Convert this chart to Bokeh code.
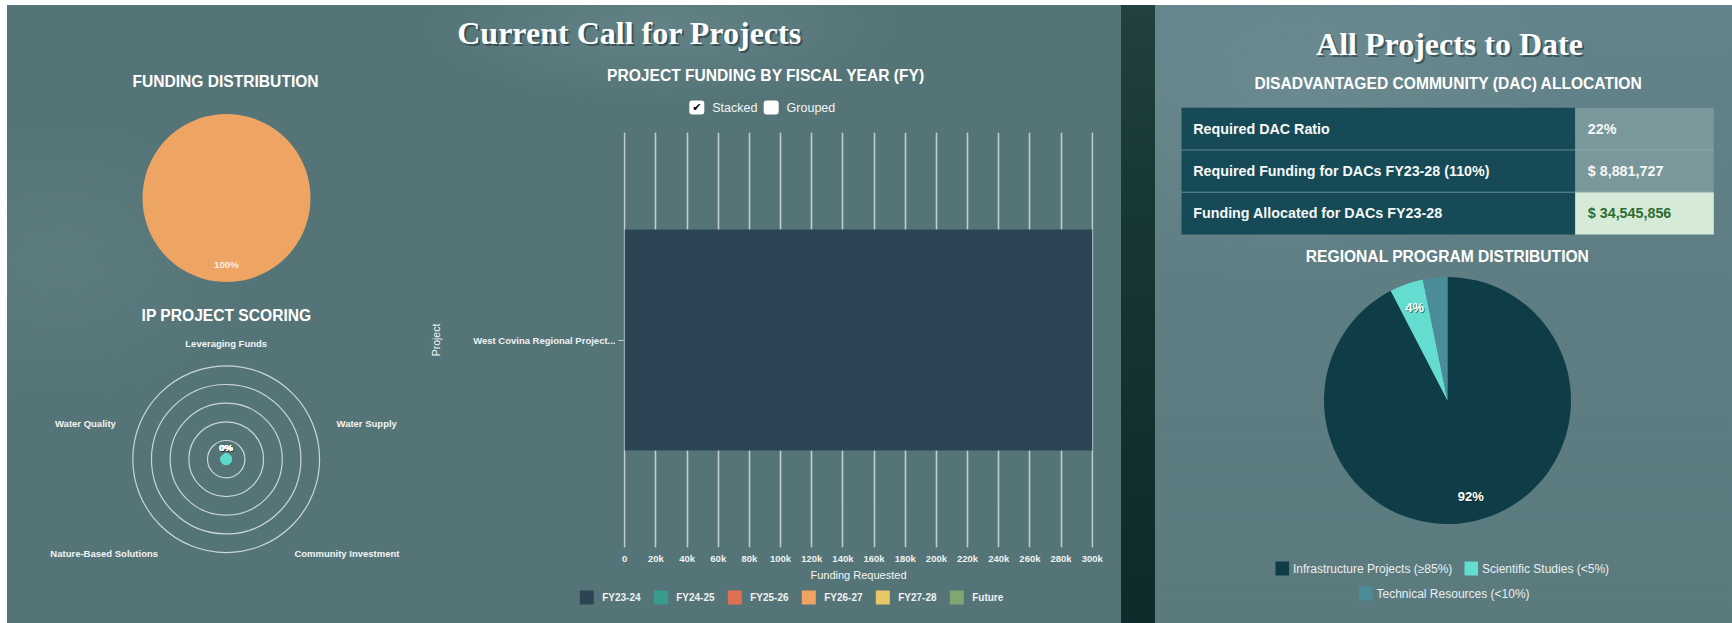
import math
import numpy as np
from bokeh.plotting import figure
from bokeh.layouts import row, column
from bokeh.models import Range1d, FactorRange, FixedTicker, NumeralTickFormatter, ColumnDataSource
from bokeh.core.properties import value
from bokeh.embed import file_html
from bokeh.resources import INLINE

# ---------------- data ----------------
left_title = "Current Call for Projects"
right_title = "All Projects to Date"

funding_dist_title = "FUNDING DISTRIBUTION"
funding_dist_labels = ["West Covina Regional Project..."]
funding_dist_values = [300000]
funding_dist_colors = ["#eea463"]

scoring_title = "IP PROJECT SCORING"
scoring_axes = ["Leveraging Funds", "Water Supply", "Community Investment",
                "Nature-Based Solutions", "Water Quality"]
scoring_values = [0, 0, 0, 0, 0]
scoring_rings = [20, 40, 60, 80, 100]

bar_title = "PROJECT FUNDING BY FISCAL YEAR (FY)"
bar_modes = ["Stacked", "Grouped"]
bar_mode_checked = [True, False]
projects = ["West Covina Regional Project..."]
fiscal_years = ["FY23-24", "FY24-25", "FY25-26", "FY26-27", "FY27-28", "Future"]
fy_funding = [300000, 0, 0, 0, 0, 0]
fy_colors = ["#2c4454", "#3a9b8e", "#e07052", "#f0a363", "#e8c767", "#80a672"]
funding_ticks = [0, 20000, 40000, 60000, 80000, 100000, 120000, 140000, 160000,
                 180000, 200000, 220000, 240000, 260000, 280000, 300000]
x_axis_label = "Funding Requested"
y_axis_label = "Project"

dac_title = "DISADVANTAGED COMMUNITY (DAC) ALLOCATION"
dac_labels = ["Required DAC Ratio", "Required Funding for DACs FY23-28 (110%)",
              "Funding Allocated for DACs FY23-28"]
dac_values = ["22%", "$ 8,881,727", "$ 34,545,856"]

regional_title = "REGIONAL PROGRAM DISTRIBUTION"
regional_labels = ["Infrastructure Projects (\u226585%)", "Scientific Studies (<5%)",
                   "Technical Resources (<10%)"]
regional_shares = [92.4, 4.4, 3.2]
regional_colors = ["#0f3d47", "#64dcd0", "#4a8c98"]

# ---------------- style ----------------
BG_LEFT = "#557478"
SANS = "'Liberation Sans', Arial, sans-serif"
SERIF = "'Liberation Serif', 'Times New Roman', serif"
TOP_WHITE = "linear-gradient(to bottom, #ffffff 5px, rgba(255,255,255,0) 5px)"


def panel(x0, y0, w, h, background, frame=None):
    # data units are screen pixels; y is the negated screen y
    fx0, fx1 = frame if frame else (x0, x0 + w)
    p = figure(width=w, height=h, x_range=Range1d(fx0, fx1), y_range=Range1d(-(y0 + h), -y0),
               x_axis_type=None, y_axis_type=None, output_backend="svg", toolbar_location=None,
               min_border_left=fx0 - x0, min_border_right=x0 + w - fx1,
               min_border_top=0, min_border_bottom=0, outline_line_color=None,
               background_fill_color=None, border_fill_color=None)
    p.styles = {"background": background}
    return p


def label(p, xs, ys, texts, size, font=SANS, style="bold", color="white",
          align="center", baseline="middle", alpha=1.0):
    p.text(x=list(xs), y=list(ys), text=list(texts), text_font=value(font),
           text_font_size=value(size), text_font_style=style, text_color=color,
           text_alpha=alpha, text_align=align, text_baseline=baseline, level="overlay")


def pie_angles(vals, eps=1e-6):
    fr = np.asarray(vals, dtype=float) / float(np.sum(vals))
    cum = np.concatenate([[0.0], np.cumsum(fr)])
    starts = math.pi / 2 - 2 * math.pi * cum[:-1]
    ends = math.pi / 2 - 2 * math.pi * cum[1:] + eps
    mids = (starts + ends) / 2
    return fr, starts, ends, mids


# ================= left column (pie + radar) =================
left = panel(0, 0, 420, 623, ", ".join([
    "linear-gradient(to right, #ffffff 7px, rgba(255,255,255,0) 7px)", TOP_WHITE,
    "radial-gradient(ellipse 200px 140px at 60px 260px, rgba(118,148,150,0.25), rgba(118,148,150,0) 100%)",
    BG_LEFT]))
label(left, [225], [-81], [funding_dist_title], "15.6px")

fcx, fcy, fR = 226, -197.5, 84
fr, st, en, md = pie_angles(funding_dist_values)
left.wedge(x=[fcx] * len(fr), y=[fcy] * len(fr), radius=fR, radius_units="screen",
           start_angle=list(st), end_angle=list(en), direction="clock",
           fill_color=funding_dist_colors, line_color=None)
label(left, [fcx + 0.79 * fR * math.cos(m) for m in md], [fcy + 0.79 * fR * math.sin(m) for m in md],
      [f"{round(f * 100)}%" for f in fr], "9.8px", color="#fbeee2")

label(left, [226], [-315], [scoring_title], "15.6px")

rcx, rcy, RR = 225.7, -458.7, 93.4
left.circle(x=[rcx] * len(scoring_rings), y=[rcy] * len(scoring_rings),
            radius=[RR * r / 100 for r in scoring_rings], radius_units="screen",
            fill_color=None, line_color="#dfe6e6", line_width=1.2, line_alpha=0.85)
n = len(scoring_axes)
theta = [math.pi / 2 - i * 2 * math.pi / n for i in range(n)]
px = [rcx + RR * v / 100 * math.cos(t) for v, t in zip(scoring_values, theta)]
py = [rcy + RR * v / 100 * math.sin(t) for v, t in zip(scoring_values, theta)]
left.patch(px, py, fill_color="#5fd9cc", fill_alpha=0.25, line_color="#5fd9cc", line_width=1)
left.scatter(px, py, size=10.6, color="#5fd9cc")
label(left, [x + 1 for x in px], [y + 10.7 for y in py], [f"{v}%" for v in scoring_values],
      "9.5px", color="#1d3034", alpha=0.45)
label(left, px, [y + 11.7 for y in py], [f"{v}%" for v in scoring_values], "9.5px")
RL = 116
for name, t in zip(scoring_axes, theta):
    c = math.cos(t)
    al = "center" if abs(c) < 0.1 else ("left" if c > 0 else "right")
    label(left, [rcx + RL * c], [rcy + RL * math.sin(t)], [name], "9.5px", align=al,
          color="#f2f5f5")

# ================= middle column =================
FRAME = (623, 1093)
MID_BG = ", ".join([
    TOP_WHITE,
    "radial-gradient(ellipse 240px 75px at 240px 28px, rgba(125,155,158,0.35), rgba(125,155,158,0) 100%)",
    BG_LEFT])
header = panel(420, 0, 701, 122, MID_BG, frame=FRAME)
label(header, [631], [-34], [left_title], "32px", font=SERIF, color="#1b2e31", alpha=0.55)
label(header, [629], [-32], [left_title], "32px", font=SERIF)
label(header, [765.5], [-75], [bar_title], "15.6px")
box_x = [696.3, 770.7]
header.quad(left=[x - 7.5 for x in box_x], right=[x + 7.5 for x in box_x],
            top=[-100] * len(box_x), bottom=[-114] * len(box_x),
            fill_color="white", line_color=None, border_radius=3, level="overlay")
label(header, [x for x, c in zip(box_x, bar_mode_checked) if c],
      [-107.3 for c in bar_mode_checked if c], ["\u2714" for c in bar_mode_checked if c],
      "11px", font="DejaVu Sans", style="normal", color="black")
label(header, [x + 15.4 for x in box_x], [-107] * len(box_x), bar_modes, "12.5px",
      style="normal", align="left", color="#f4f6f6")

bar = figure(width=701, height=465, y_range=FactorRange(factors=projects),
             x_range=Range1d(-800, 300800), output_backend="svg", toolbar_location=None,
             min_border_left=FRAME[0] - 420, min_border_right=1121 - FRAME[1],
             min_border_top=10, min_border_bottom=40,
             background_fill_color=None, border_fill_color=None, outline_line_color=None)
bar.styles = {"background": BG_LEFT}
src = ColumnDataSource({"project": projects, **{fy: [v] for fy, v in zip(fiscal_years, fy_funding)}})
bar.hbar_stack(fiscal_years, y="project", height=0.532, color=fy_colors, line_color=None, source=src)

bar.xaxis.ticker = FixedTicker(ticks=funding_ticks)
bar.xaxis.formatter = NumeralTickFormatter(format="0a")
bar.xaxis.axis_line_color = None
bar.xaxis.major_tick_line_color = None
bar.xaxis.major_tick_out = 0
bar.xaxis.major_tick_in = 0
bar.xaxis.minor_tick_line_color = None
bar.xaxis.minor_tick_out = 0
bar.xaxis.major_label_standoff = 5
bar.xaxis.major_label_text_font = SANS
bar.xaxis.major_label_text_font_style = "bold"
bar.xaxis.major_label_text_font_size = "9.5px"
bar.xaxis.major_label_text_color = "#eef2f2"
bar.xaxis.axis_label = x_axis_label
bar.xaxis.axis_label_text_font = SANS
bar.xaxis.axis_label_text_font_style = "normal"
bar.xaxis.axis_label_text_font_size = "11px"
bar.xaxis.axis_label_text_color = "#f2f5f5"
bar.xaxis.axis_label_standoff = 2

bar.yaxis.axis_line_color = None
bar.yaxis.major_tick_in = 0
bar.yaxis.major_tick_out = 5
bar.yaxis.major_tick_line_color = "#c9d5d5"
bar.yaxis.major_label_standoff = 3
bar.yaxis.major_label_text_font = SANS
bar.yaxis.major_label_text_font_style = "bold"
bar.yaxis.major_label_text_font_size = "9.5px"
bar.yaxis.major_label_text_color = "#eef2f2"
bar.yaxis.axis_label = y_axis_label
bar.yaxis.axis_label_text_font = SANS
bar.yaxis.axis_label_text_font_style = "normal"
bar.yaxis.axis_label_text_font_size = "10.5px"
bar.yaxis.axis_label_text_color = "#f2f5f5"
bar.yaxis.axis_label_standoff = 28

bar.xgrid.grid_line_color = "#d3dddd"
bar.xgrid.grid_line_width = 1.6
bar.xgrid.grid_line_alpha = 0.85
bar.ygrid.grid_line_color = None

# legend of the bar chart
lg = panel(420, 587, 701, 36, BG_LEFT, frame=FRAME)
lx = [579.3 + i * 74 for i in range(len(fiscal_years))]
lg.quad(left=lx, right=[x + 14 for x in lx], top=[-590] * len(lx), bottom=[-604] * len(lx),
        fill_color=fy_colors, line_color=None, level="overlay")
label(lg, [x + 22.4 for x in lx], [-597] * len(lx), fiscal_years, "10px", align="left",
      color="#eef2f2")

# ================= dark strip =================
strip = panel(1121, 0, 34, 623, ", ".join([
    TOP_WHITE,
    "linear-gradient(to bottom, #23423f 0%, #183835 30%, #143230 60%, #0e2a2a 100%)"]))

# ================= right panel =================
right = panel(1155, 0, 577, 623, ", ".join([
    TOP_WHITE,
    "radial-gradient(ellipse 300px 200px at 140px 80px, rgba(120,150,154,0.4), rgba(120,150,154,0) 100%)",
    "linear-gradient(to bottom, #62838a 0%, #5e7e83 45%, #5a7a7e 100%)"]))
label(right, [1451], [-45], [right_title], "32px", font=SERIF, color="#1b2e31", alpha=0.55)
label(right, [1449], [-43], [right_title], "32px", font=SERIF)
label(right, [1448], [-83], [dac_title], "15.6px")

row_h = 42.2
tops = [-(107.3 + i * row_h) for i in range(len(dac_labels))]
bots = [t - row_h for t in tops]
value_fill = ["#7a989b"] * (len(dac_values) - 1) + ["#d6ebd7"]
value_text = ["#f6f8f8"] * (len(dac_values) - 1) + ["#2e6b31"]
right.quad(left=[1181] * len(tops), right=[1574.7] * len(tops), top=tops, bottom=bots,
           fill_color="#174a57", line_color=None)
right.quad(left=[1574.7] * len(tops), right=[1713.3] * len(tops), top=tops, bottom=bots,
           fill_color=value_fill, line_color=None)
right.segment(x0=[1181] * (len(tops) - 1), x1=[1713.3] * (len(tops) - 1), y0=tops[1:], y1=tops[1:],
              line_color="#9fbcbf", line_alpha=0.55, line_width=1)
mids = [t - row_h / 2 for t in tops]
label(right, [1192.7] * len(mids), mids, dac_labels, "14.3px", align="left", color="#f6f8f8")
label(right, [1587.3] * len(mids), mids, dac_values, "14.3px", align="left", color=value_text)

label(right, [1447], [-255.5], [regional_title], "15.6px")

gcx, gcy, gR = 1447, -400, 123.5
fr, st, en, md = pie_angles(regional_shares)
right.wedge(x=[gcx] * len(fr), y=[gcy] * len(fr), radius=gR, radius_units="screen",
            start_angle=list(st), end_angle=list(en), direction="clock",
            fill_color=regional_colors, line_color=None)
shown = [i for i, f in enumerate(fr) if f >= 0.04]
lab_x = [gcx + 0.8 * gR * math.cos(md[i]) for i in shown]
lab_y = [gcy + 0.8 * gR * math.sin(md[i]) for i in shown]
lab_t = [f"{round(fr[i] * 100)}%" for i in shown]
label(right, [x + 1 for x in lab_x], [y - 1 for y in lab_y], lab_t, "13px", color="#0b1e22", alpha=0.6)
label(right, lab_x, lab_y, lab_t, "13px")

leg_pos = [(1275, -568), (1464, -568), (1358.5, -593)]
right.quad(left=[p[0] for p in leg_pos], right=[p[0] + 13.6 for p in leg_pos],
           top=[p[1] + 7 for p in leg_pos], bottom=[p[1] - 7 for p in leg_pos],
           fill_color=regional_colors, line_color=None)
label(right, [p[0] + 17.5 for p in leg_pos], [p[1] for p in leg_pos], regional_labels, "12px",
      style="normal", align="left", color="#e9eff0")

layout = row(left, column(header, bar, lg), strip, right)
open("out.html", "w").write(file_html(layout, INLINE))
